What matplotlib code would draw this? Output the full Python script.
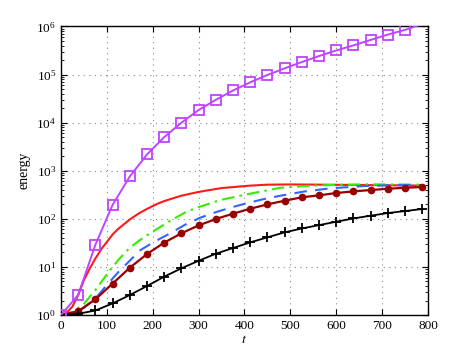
import matplotlib
matplotlib.use("Agg")
import matplotlib.pyplot as plt
import numpy as np
from matplotlib.ticker import LogLocator, NullFormatter, FixedLocator

plt.rcParams['font.family'] = ['Liberation Serif', 'DejaVu Serif']
plt.rcParams['mathtext.fontset'] = 'stix'

# marker series sampled every 37.5
t_mark = [0, 37.5, 75, 112.5, 150, 187.5, 225, 262.5, 300, 337.5, 375, 412.5,
          450, 487.5, 525, 562.5, 600, 637.5, 675, 712.5, 750, 787.5]

purple = [1, 2.6, 29, 195, 760, 2180, 5000, 10000, 18300, 29900, 46700, 69000,
          98000, 135000, 182000, 243000, 317000, 405000, 525000, 680000, 850000, 1130000]
darkred = [1, 1.2, 2.12, 4.5, 9.6, 18.5, 32, 50, 73, 99, 128, 162,
           200, 238, 280, 308, 344, 372, 397, 422, 443, 458]
black = [1, 1.06, 1.24, 1.74, 2.6, 4.0, 6.26, 9.35, 13.4, 18.8, 24.7, 32.4,
         41.2, 52.3, 63, 74, 87, 102, 116, 132, 145, 160]

t_red = [0, 12, 25, 37.5, 50, 62, 75, 90, 100, 113, 125, 150, 170, 188, 210, 225,
         262, 300, 350, 412, 450, 500, 550, 600, 650, 700, 750, 787]
red = [1, 1.1, 1.5, 2.6, 5.3, 9.0, 15, 25, 33, 48, 62, 97, 130, 162, 205, 234,
       302, 363, 436, 490, 513, 519, 515, 510, 505, 500, 495, 490]

t_green = [0, 25, 50, 75, 100, 125, 150, 175, 200, 237, 274, 300, 347, 390,
           430, 478, 530, 587, 659, 720, 787]
green = [1, 1.15, 1.7, 3.3, 7, 14, 25, 38, 54, 90, 141, 175, 245, 302,
         360, 443, 480, 505, 520, 520, 512]

t_blue = [0, 25, 50, 75, 100, 125, 150, 172, 200, 238, 270, 303, 340, 369,
          400, 440, 478, 530, 587, 659, 720, 787]
blue = [1, 1.1, 1.4, 2.2, 4.2, 7.8, 13.5, 22, 32, 50, 75, 105, 140, 170,
        205, 255, 302, 370, 430, 480, 500, 505]

x_ticks = [0, 100, 200, 300, 400, 500, 600, 700, 800]

fig = plt.figure(figsize=(4.72, 3.56), dpi=100)
ax = fig.add_axes([0.1292, 0.1152, 0.7776, 0.8104])

ax.plot(t_red, red, color='#ff1a1a', lw=1.5, zorder=3)
ax.plot(t_green, green, color='#33ee00', lw=1.5, dashes=(6, 2.5, 1.2, 2.5), zorder=3)
ax.plot(t_blue, blue, color='#3366ff', lw=1.5, dashes=(6, 4), zorder=3)
ax.plot(t_mark, darkred, color='#990000', lw=1.6, marker='o', ms=4.5,
        mfc='#990000', mec='#990000', zorder=4)
ax.plot(t_mark, black, color='black', lw=1.3, marker='+', ms=7, mew=1.3, zorder=4)
ax.plot(t_mark, purple, color='#bf44ff', lw=1.4, marker='s', ms=6.5,
        mfc='none', mec='#bf44ff', mew=1.3, markevery=list(range(21)), zorder=5)

ax.set_yscale('log')
ax.set_xlim(0, 800)
ax.set_ylim(1, 1e6)
ax.xaxis.set_major_locator(FixedLocator(x_ticks))
ax.yaxis.set_major_locator(LogLocator(base=10, numticks=10))
ax.yaxis.set_minor_locator(LogLocator(base=10, subs=np.arange(2, 10), numticks=10))
ax.yaxis.set_minor_formatter(NullFormatter())

ax.grid(True, which='major', color='#888888', linestyle=(0, (1, 4)), lw=0.8)
ax.tick_params(which='both', direction='in', top=True, right=True,
               labelsize=9.5, color='black')
ax.tick_params(which='major', length=4)
ax.tick_params(which='minor', length=2)
for s in ax.spines.values():
    s.set_linewidth(1.0)

ax.set_xlabel('$t$', fontsize=10, labelpad=1)
ax.set_ylabel('energy', fontsize=10, labelpad=4)

fig.savefig('out.png', dpi=100)
